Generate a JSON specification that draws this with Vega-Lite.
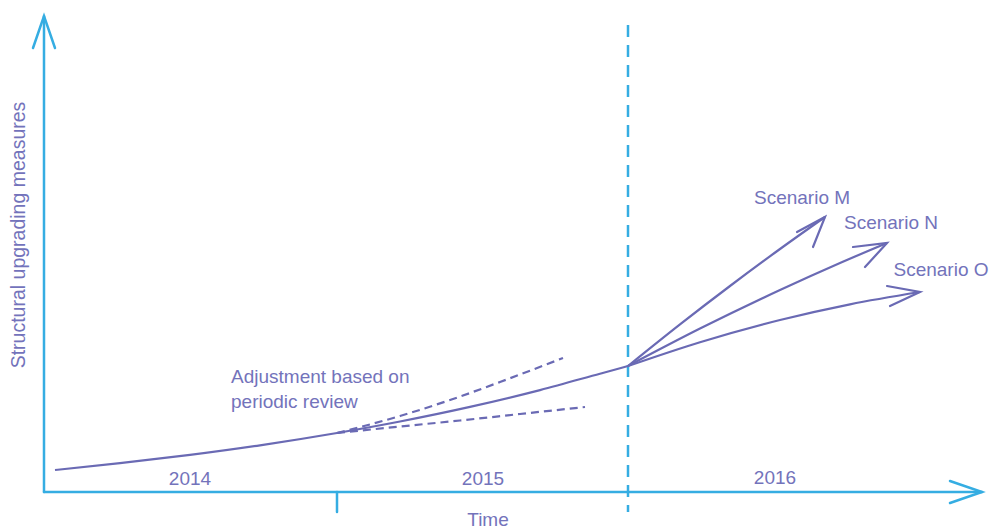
{
  "$schema": "https://vega.github.io/schema/vega-lite/v6.json",
  "width": 992,
  "height": 530,
  "autosize": {"type": "fit", "contains": "padding"},
  "padding": 0,
  "background": "white",
  "config": {"view": {"stroke": null}},
  "datasets": {
    "blue": [
      {"series": "yaxis", "i": 0, "x": 44, "y": 38},
      {"series": "yaxis", "i": 1, "x": 44, "y": 514},
      {"series": "yarrow", "i": 0, "x": 33, "y": 482},
      {"series": "yarrow", "i": 1, "x": 44, "y": 514},
      {"series": "yarrow", "i": 2, "x": 55, "y": 482},
      {"series": "xaxis", "i": 0, "x": 44, "y": 38},
      {"series": "xaxis", "i": 1, "x": 982, "y": 38},
      {"series": "xarrow", "i": 0, "x": 950, "y": 49},
      {"series": "xarrow", "i": 1, "x": 982, "y": 38},
      {"series": "xarrow", "i": 2, "x": 950, "y": 27},
      {"series": "tick", "i": 0, "x": 337, "y": 38},
      {"series": "tick", "i": 1, "x": 337, "y": 18}
    ],
    "bluedash": [
      {"series": "divider", "i": 0, "x": 628, "y": 505},
      {"series": "divider", "i": 1, "x": 628, "y": 18}
    ],
    "curves": [
      {"series": "main", "x": 55, "y": 60},
      {"series": "main", "x": 120, "y": 66.8},
      {"series": "main", "x": 190, "y": 75.1},
      {"series": "main", "x": 260, "y": 84.7},
      {"series": "main", "x": 337, "y": 97},
      {"series": "main", "x": 400, "y": 108.5},
      {"series": "main", "x": 470, "y": 123.1},
      {"series": "main", "x": 540, "y": 139.9},
      {"series": "main", "x": 600, "y": 156.3},
      {"series": "main", "x": 628, "y": 164},
      {"series": "M", "x": 628, "y": 164},
      {"series": "M", "x": 680, "y": 205.6},
      {"series": "M", "x": 730, "y": 244},
      {"series": "M", "x": 780, "y": 281},
      {"series": "M", "x": 825, "y": 313},
      {"series": "N", "x": 628, "y": 164},
      {"series": "N", "x": 700, "y": 201.4},
      {"series": "N", "x": 780, "y": 240},
      {"series": "N", "x": 840, "y": 267},
      {"series": "N", "x": 887, "y": 287},
      {"series": "O", "x": 628, "y": 164},
      {"series": "O", "x": 700, "y": 187.8},
      {"series": "O", "x": 780, "y": 210},
      {"series": "O", "x": 850, "y": 225.7},
      {"series": "O", "x": 920, "y": 238}
    ],
    "heads": [
      {"series": "M", "i": 0, "x": 797, "y": 298},
      {"series": "M", "i": 1, "x": 825, "y": 313},
      {"series": "M", "i": 2, "x": 813, "y": 283},
      {"series": "N", "i": 0, "x": 853, "y": 283},
      {"series": "N", "i": 1, "x": 887, "y": 287},
      {"series": "N", "i": 2, "x": 865, "y": 263},
      {"series": "O", "i": 0, "x": 887, "y": 244},
      {"series": "O", "i": 1, "x": 920, "y": 238},
      {"series": "O", "i": 2, "x": 890, "y": 224}
    ],
    "dashed": [
      {"series": "upper", "x": 337, "y": 97},
      {"series": "upper", "x": 400, "y": 114},
      {"series": "upper", "x": 453, "y": 131},
      {"series": "upper", "x": 500, "y": 148},
      {"series": "upper", "x": 563, "y": 172},
      {"series": "lower", "x": 337, "y": 97},
      {"series": "lower", "x": 400, "y": 103.5},
      {"series": "lower", "x": 460, "y": 109.5},
      {"series": "lower", "x": 520, "y": 116},
      {"series": "lower", "x": 585, "y": 123}
    ],
    "labels": [
      {"label": "2014", "x": 190, "y": 51},
      {"label": "2015", "x": 483, "y": 51},
      {"label": "2016", "x": 775, "y": 52},
      {"label": "Time", "x": 488, "y": 10},
      {"label": "Scenario M", "x": 802, "y": 332},
      {"label": "Scenario N", "x": 891, "y": 307},
      {"label": "Scenario O", "x": 941, "y": 260}
    ],
    "leftlabels": [
      {"label": "Adjustment based on", "x": 231, "y": 153},
      {"label": "periodic review", "x": 231, "y": 128}
    ],
    "ytitle": [
      {"label": "Structural upgrading measures", "x": 19, "y": 295}
    ]
  },
  "encoding": {
    "x": {"field": "x", "type": "quantitative", "scale": {"domain": [0, 992], "nice": false, "zero": false}, "axis": null},
    "y": {"field": "y", "type": "quantitative", "scale": {"domain": [0, 530], "nice": false, "zero": false}, "axis": null}
  },
  "layer": [
    {
      "data": {"name": "blue"},
      "mark": {"type": "line", "color": "#35ADE2", "strokeWidth": 2.5, "strokeCap": "round"},
      "encoding": {"detail": {"field": "series"}, "order": {"field": "i"}}
    },
    {
      "data": {"name": "bluedash"},
      "mark": {"type": "line", "color": "#35ADE2", "strokeWidth": 2.5, "strokeDash": [12, 8]},
      "encoding": {"detail": {"field": "series"}, "order": {"field": "i"}}
    },
    {
      "data": {"name": "curves"},
      "mark": {"type": "line", "color": "#6A6AB4", "strokeWidth": 2.2, "interpolate": "monotone"},
      "encoding": {"detail": {"field": "series"}}
    },
    {
      "data": {"name": "heads"},
      "mark": {"type": "line", "color": "#6A6AB4", "strokeWidth": 2.2, "strokeCap": "round"},
      "encoding": {"detail": {"field": "series"}, "order": {"field": "i"}}
    },
    {
      "data": {"name": "dashed"},
      "mark": {"type": "line", "color": "#6A6AB4", "strokeWidth": 2.2, "interpolate": "monotone", "strokeDash": [8, 5]},
      "encoding": {"detail": {"field": "series"}}
    },
    {
      "data": {"name": "labels"},
      "mark": {"type": "text", "color": "#7373BB", "font": "Liberation Sans", "fontSize": 19, "align": "center", "baseline": "middle"},
      "encoding": {"text": {"field": "label"}}
    },
    {
      "data": {"name": "leftlabels"},
      "mark": {"type": "text", "color": "#7373BB", "font": "Liberation Sans", "fontSize": 19, "align": "left", "baseline": "middle"},
      "encoding": {"text": {"field": "label"}}
    },
    {
      "data": {"name": "ytitle"},
      "mark": {"type": "text", "color": "#7373BB", "font": "Liberation Sans", "fontSize": 19.5, "align": "center", "baseline": "middle", "angle": 270},
      "encoding": {"text": {"field": "label"}}
    }
  ]
}
